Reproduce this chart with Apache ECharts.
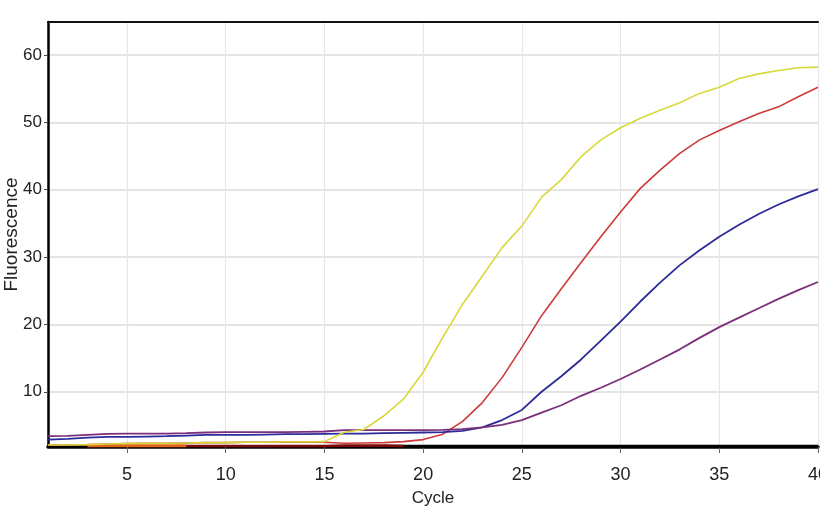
<!DOCTYPE html>
<html>
<head>
<meta charset="utf-8">
<script src="https://cdn.jsdelivr.net/npm/echarts/dist/echarts.min.js"></script>
<style>
html,body{margin:0;padding:0;background:#fff;overflow:hidden;}
#chart{width:820px;height:511px;}
</style>
</head>
<body>
<div id="chart"></div>
<script>
var cycles = [1,2,3,4,5,6,7,8,9,10,11,12,13,14,15,16,17,18,19,20,21,22,23,24,25,26,27,28,29,30,31,32,33,34,35,36,37,38,39,40];

var yellowSeries = [2.1,2.1,2.15,2.25,2.3,2.35,2.35,2.4,2.45,2.45,2.5,2.5,2.55,2.55,2.6,4.0,4.4,6.4,8.9,12.9,18.1,23.0,27.2,31.4,34.6,38.9,41.5,44.9,47.4,49.2,50.6,51.8,52.9,54.3,55.2,56.5,57.2,57.7,58.1,58.2];
var redSeries = [2.1,2.1,2.15,2.25,2.3,2.35,2.35,2.4,2.45,2.45,2.5,2.5,2.5,2.5,2.5,2.35,2.4,2.45,2.6,2.9,3.7,5.6,8.4,12.1,16.6,21.3,25.3,29.2,33.0,36.7,40.2,42.9,45.4,47.4,48.8,50.1,51.3,52.3,53.8,55.2];
var blueSeries = [2.9,3.0,3.2,3.3,3.3,3.35,3.4,3.5,3.6,3.6,3.6,3.65,3.7,3.7,3.75,3.8,3.8,3.85,3.9,3.95,4.0,4.2,4.7,5.8,7.3,10.0,12.3,14.8,17.6,20.4,23.4,26.2,28.8,31.0,33.0,34.8,36.4,37.8,39.0,40.1];
var purpleSeries = [3.4,3.45,3.6,3.75,3.8,3.8,3.8,3.85,3.95,4.0,4.0,4.0,4.0,4.05,4.1,4.3,4.3,4.3,4.3,4.3,4.35,4.45,4.7,5.1,5.8,6.9,8.0,9.4,10.6,11.9,13.3,14.8,16.3,18.0,19.6,21.0,22.4,23.8,25.1,26.3];
var orangeSeries = [null,null,2.0,2.0,2.0,2.0,2.0,2.0,null,null,null,null,null,null,null,null,null,null,null,null,null,null,null,null,null,null,null,null,null,null,null,null,null,null,null,null,null,null,null,null];
var maroonSeries = [null,null,null,null,null,null,null,1.95,1.95,1.95,1.95,1.95,1.95,1.95,1.95,2.0,2.0,2.0,1.95,null,null,null,null,null,null,null,null,null,null,null,null,null,null,null,null,null,null,null,null,null];
var blackSeries = [null,null,null,null,null,null,null,null,null,null,null,null,null,null,null,null,null,1.9,1.9,1.9,1.9,1.9,1.9,1.9,1.9,1.9,1.9,1.9,1.9,1.9,1.9,1.9,1.9,1.9,1.9,1.9,1.9,1.9,1.9,1.9];

var yTicks = [10,20,30,40,50,60];
var yMin = 1.8, yMax = 64.9;
var xAxisName = 'Cycle';
var yAxisName = 'Fluorescence';

var font = "'Liberation Sans',Arial,sans-serif";

function every5(index, value) { return Number(value) % 5 === 0; }

function line(name, data, color, width) {
  return {
    name: name, type: 'line', data: data, xAxisIndex: 0,
    symbol: 'none', smooth: false, connectNulls: false,
    lineStyle: { color: color, width: width },
    itemStyle: { color: color },
    silent: true
  };
}

var chart = echarts.init(document.getElementById('chart'), null, { renderer: 'canvas' });
chart.setOption({
  animation: false,
  backgroundColor: '#ffffff',
  grid: { left: 48, right: 2, top: 22, bottom: 64, containLabel: false, outerBoundsMode: 'none' },
  xAxis: [{
    type: 'category',
    data: cycles,
    boundaryGap: false,
    position: 'bottom',
    name: xAxisName,
    nameLocation: 'middle',
    nameGap: 43,
    nameMoveOverlap: false,
    nameTextStyle: { fontFamily: font, fontSize: 17, color: '#222' },
    axisLine: { show: true, onZero: false, lineStyle: { color: '#000', width: 3.5 } },
    axisTick: { show: true, interval: every5, length: 6, lineStyle: { color: '#666', width: 1 } },
    axisLabel: { interval: every5, fontFamily: font, fontSize: 18, color: '#222', margin: 19 },
    splitLine: { show: true, interval: every5, lineStyle: { color: '#e6e6e6', width: 1.2 } }
  }, {
    type: 'category',
    data: cycles,
    boundaryGap: false,
    position: 'top',
    axisLine: { show: true, onZero: false, lineStyle: { color: '#111', width: 2.2 } },
    axisTick: { show: false },
    axisLabel: { show: false },
    splitLine: { show: false }
  }],
  yAxis: {
    type: 'value',
    min: yMin,
    max: yMax,
    name: yAxisName,
    nameLocation: 'middle',
    nameGap: 27,
    nameMoveOverlap: false,
    nameRotate: 90,
    nameTextStyle: { fontFamily: font, fontSize: 19, color: '#222' },
    axisLine: { show: true, lineStyle: { color: '#000', width: 2.5 } },
    axisTick: { show: true, length: 4, customValues: yTicks, lineStyle: { color: '#444', width: 1 } },
    axisLabel: {
      fontFamily: font, fontSize: 17, color: '#222', margin: 6, customValues: yTicks,
      formatter: function (v) { return (Math.abs(v % 10) < 1e-6) ? String(v) : ''; }
    },
    splitLine: { show: true, lineStyle: { color: '#e4e4e4', width: 1.8 } }
  },
  series: [
    line('black', blackSeries, '#000000', 3),
    line('maroon', maroonSeries, '#7d0a0a', 2.6),
    line('orange', orangeSeries, '#e2661a', 3),
    line('red', redSeries, '#cc3a3a', 1.6),
    line('blue', blueSeries, '#2b2b9b', 1.8),
    line('purple', purpleSeries, '#7b2f7b', 1.8),
    line('yellow', yellowSeries, '#d8d83a', 1.6)
  ]
});
</script>
</body>
</html>
